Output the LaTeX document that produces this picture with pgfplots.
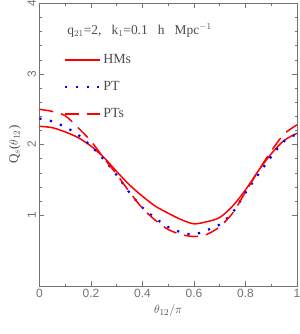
\documentclass[border=0pt]{standalone}
\usepackage{fontspec}
\setmainfont{Liberation Serif}
\setsansfont{Liberation Sans}
\usepackage{pgfplots}
\usepackage{pgfplotstable}
\pgfplotsset{compat=1.18}
\usetikzlibrary{calc}
\definecolor{axgray}{gray}{0.45}
\definecolor{txtgray}{gray}{0.3}
\definecolor{myred}{RGB}{255,0,0}
\definecolor{myblue}{RGB}{0,0,255}

\pgfplotstableread{
x     HMs   PT    PTs
0.00  2.26  2.37  2.50
0.05  2.24  2.33  2.47
0.10  2.18  2.25  2.41
0.15  2.10  2.14  2.24
0.20  1.98  1.98  2.05
0.25  1.82  1.79  1.81
0.30  1.62  1.57  1.58
0.35  1.43  1.32  1.33
0.40  1.27  1.11  1.10
0.45  1.13  0.96  0.93
0.50  1.03  0.835 0.80
0.55  0.94  0.76  0.73
0.60  0.88  0.73  0.70
0.65  0.91  0.79  0.73
0.70  0.97  0.87  0.84
0.75  1.13  1.04  1.03
0.80  1.36  1.32  1.33
0.85  1.63  1.58  1.63
0.90  1.87  1.83  1.91
0.95  2.06  2.05  2.15
1.00  2.16  2.15  2.28
}\data

\begin{document}
\begin{tikzpicture}
\begin{axis}[name=ax, scale only axis, width=257.6bp, height=282.7bp,
  xmin=0, xmax=1, ymin=0, ymax=4,
  xtick={0,0.2,0.4,0.6,0.8,1}, ytick={1,2,3,4},
  minor x tick num=1, minor y tick num=4,
  tick align=inside,
  major tick length=5bp, minor tick length=2.5bp,
  axis line style={axgray},
  every tick/.style={axgray, line width=0.6bp},
  /pgf/number format/assume math mode=true,
  tick label style={font=\sffamily\fontsize{12}{12}\selectfont, text=axgray},
  yticklabel style={rotate=90, anchor=south},
  xlabel={$\theta_{12}/\pi$},
  ylabel={Q$_s$($\theta_{12}$)},
  label style={font=\fontsize{13}{13}\selectfont, text=txtgray},
  legend style={at={(axis cs:0.095,3.31)}, anchor=north west, draw=none, fill=none,
    font=\fontsize{14}{14}\selectfont, row sep=12.5bp, inner sep=0pt},
  legend cell align=left,
]
\addplot[color=myred, line width=1.5bp, smooth, tension=0.5, forget plot] table[x=x, y=HMs] {\data};
\addplot[color=myblue, line width=2.2bp, dash pattern=on 2.2bp off 8.5bp, smooth, tension=0.5, forget plot] table[x=x, y=PT] {\data};
\addplot[color=myred, line width=1.5bp, dash pattern=on 14bp off 8bp, smooth, tension=0.5, forget plot] table[x=x, y=PTs] {\data};
\addlegendimage{legend image code/.code={\draw[myred, line width=2bp] (0bp,0bp) -- (35bp,0bp);}}
\addlegendentry{\textcolor{txtgray}{HMs}}
\addlegendimage{legend image code/.code={\draw[myblue, line width=2.2bp, dash pattern=on 2.2bp off 8.5bp] (0bp,0bp) -- (35bp,0bp);}}
\addlegendentry{\textcolor{txtgray}{PT}}
\addlegendimage{legend image code/.code={\draw[myred, line width=1.6bp, dash pattern=on 14bp off 8bp] (0bp,0bp) -- (35bp,0bp);}}
\addlegendentry{\textcolor{txtgray}{PTs}}
\node[anchor=west, font=\fontsize{13.5}{13.5}\selectfont, text=txtgray] at (axis cs:0.095,3.62)
  {q$_{21}$=2,\ \ \ k$_1$=0.1\ \ \ h\ \ \ Mpc$^{-1}$};
\end{axis}
\pgfresetboundingbox
\path ($(ax.south west)+(-39.4bp,-48bp)$) rectangle ($(ax.north east)+(3bp,3.3bp)$);
\end{tikzpicture}
\end{document}
